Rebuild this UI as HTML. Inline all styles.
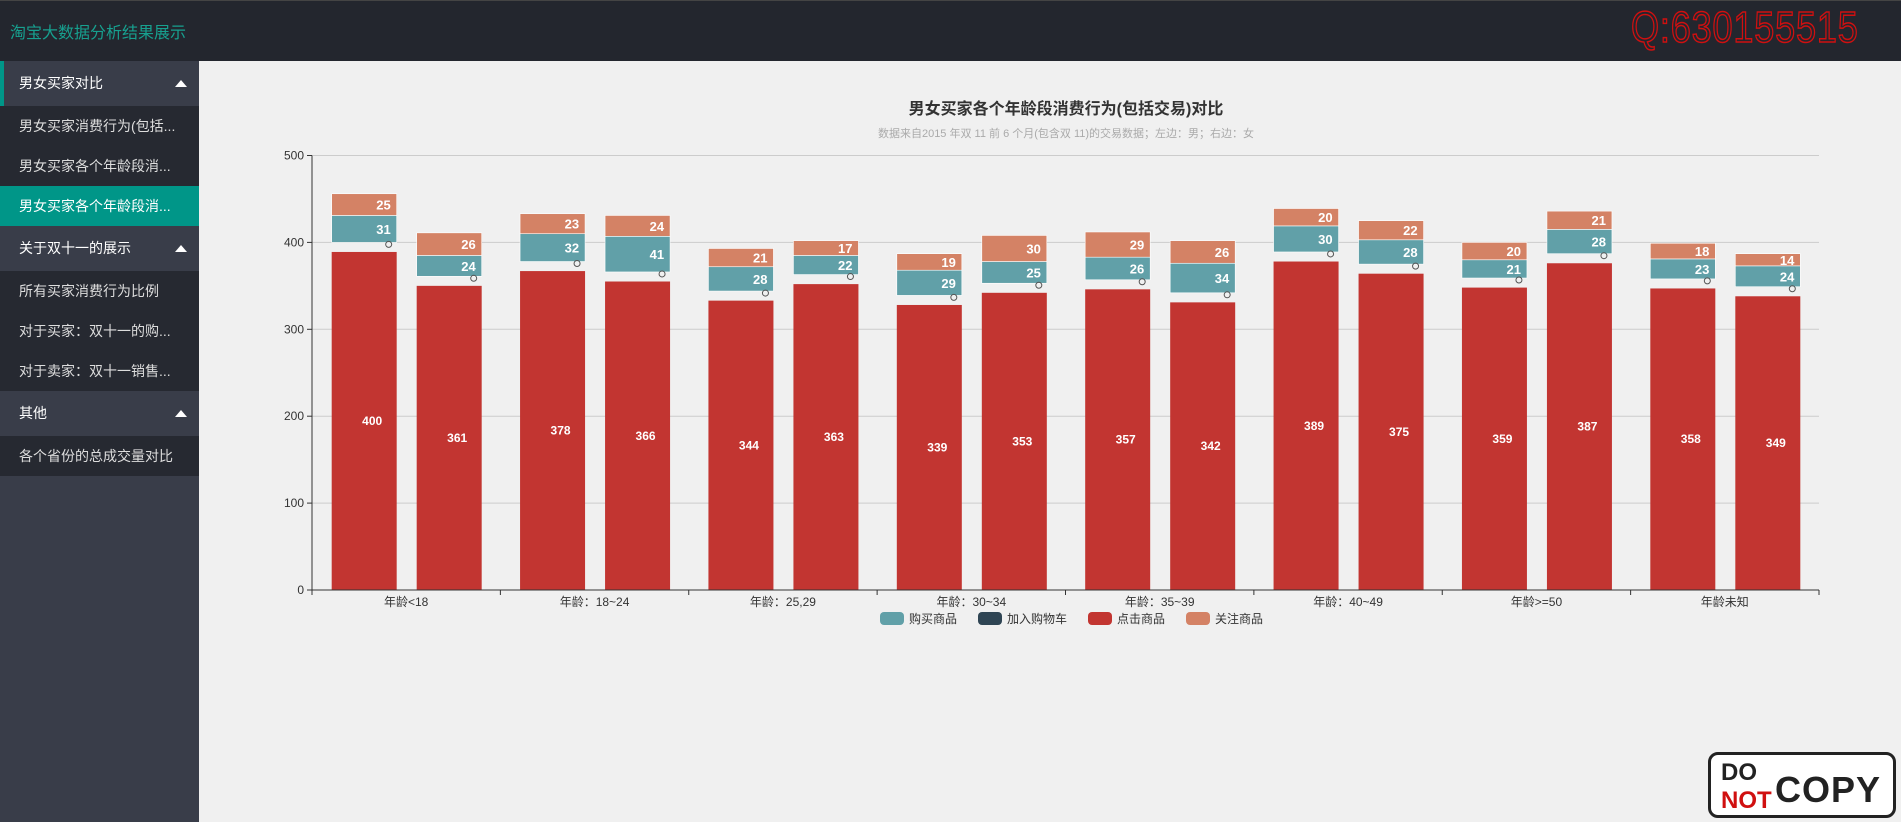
<!DOCTYPE html>
<html><head><meta charset="utf-8">
<style>
*{margin:0;padding:0;box-sizing:border-box}
body{width:1901px;height:822px;overflow:hidden;background:#f0f0f0;font-family:"Liberation Sans","Noto Sans CJK SC",sans-serif;position:relative}
#header{position:absolute;left:0;top:0;width:1901px;height:61px;background:#23262e;border-top:1px solid #444}
#brand{position:absolute;left:10px;top:18px;color:#17a08f;font-size:16px}
#qq{position:absolute;right:42px;top:2px;font-size:44px;color:transparent;-webkit-text-stroke:1.5px #d01010;font-family:"Liberation Sans",sans-serif;letter-spacing:1px;transform:scaleX(0.82);transform-origin:right top}
#side{position:absolute;left:0;top:61px;width:199px;height:761px;background:#393d49}
.grp{height:45px;line-height:45px;color:#fff;font-size:14px;padding-left:19px;background:#393d49;position:relative}
.grp .tri{position:absolute;right:12px;top:19px;width:0;height:0;border-left:6px solid transparent;border-right:6px solid transparent;border-bottom:7px solid #fff}
.sub{height:40px;line-height:40px;color:#ddd;font-size:14px;padding-left:19px;background:#262931;white-space:nowrap;overflow:hidden}
.sub.on{background:#009688;color:#fff}
#logo{position:absolute;left:1708px;top:752px;width:188px;height:66px;border:3px solid #222;border-radius:10px;background:#fff;font-weight:bold;color:#222}
</style></head><body>
<div id="header">
<div id="brand">淘宝大数据分析结果展示</div>
<div id="qq">Q:630155515</div>
</div>
<div id="side">
<div class="grp" style="border-left:4px solid #009688;padding-left:15px">男女买家对比<span class="tri"></span></div>
<div class="sub">男女买家消费行为(包括...</div>
<div class="sub">男女买家各个年龄段消...</div>
<div class="sub on">男女买家各个年龄段消...</div>
<div class="grp">关于双十一的展示<span class="tri"></span></div>
<div class="sub">所有买家消费行为比例</div>
<div class="sub">对于买家：双十一的购...</div>
<div class="sub">对于卖家：双十一销售...</div>
<div class="grp">其他<span class="tri"></span></div>
<div class="sub">各个省份的总成交量对比</div>
</div>
<svg id="chart" width="1901" height="822" style="position:absolute;left:0;top:0"></svg>
<div id="logo">
<div style="position:absolute;left:10px;top:4px;font-size:24px">DO</div>
<div style="position:absolute;left:10px;top:32px;font-size:24px;color:#d01010">NOT</div>
<div style="position:absolute;left:64px;top:14px;font-size:36px;letter-spacing:1px">COPY</div>
</div>
<script>
const categories=["年龄<18","年龄：18~24","年龄：25,29","年龄：30~34","年龄：35~39","年龄：40~49","年龄>=50","年龄未知"];
const clickVals=[400,361,378,366,344,363,339,353,357,342,389,375,359,387,358,349];
const cartVals=[0,0,0,0,0,0,0,0,0,0,0,0,0,0,0,0];
const buyVals=[31,24,32,41,28,22,29,25,26,34,30,28,21,28,23,24];
const followVals=[25,26,23,24,21,17,19,30,29,26,20,22,20,21,18,14];
const yTicks=[0,100,200,300,400,500];
const legendNames=["购买商品","加入购物车","点击商品","关注商品"];
const legendColors=["#61a0a8","#2f4554","#c23531","#d48265"];

const svg=document.getElementById('chart');
const NS='http://www.w3.org/2000/svg';
const X0=312,X1=1819,Y0=590,YTOP=155.5,YMAX=500;
const y=v=>Y0-(v/YMAX)*(Y0-YTOP);
const band=(X1-X0)/categories.length;
const barX=i=>X0+band*(Math.floor(i/2)+0.5)+(i%2?43:-42)-32.5;
const BW=65;
function el(t,a,txt){const e=document.createElementNS(NS,t);for(const k in a)e.setAttribute(k,a[k]);if(txt!=null)e.textContent=txt;svg.appendChild(e);return e;}

let e;
e=el('text',{x:1066,y:114,'text-anchor':'middle','font-size':16,'font-weight':'bold',fill:'#333'},'男女买家各个年龄段消费行为(包括交易)对比');


e=el('text',{x:1066,y:137,'text-anchor':'middle','font-size':11,fill:'#aaa'},'数据来自2015 年双 11 前 6 个月(包含双 11)的交易数据；左边：男；右边：女');



yTicks.forEach(t=>{
  if(t>0){e=el('line',{x1:X0,x2:X1,y1:y(t),y2:y(t),stroke:'#ccc','stroke-width':1});
  
  }
  el('line',{x1:X0-5,x2:X0,y1:y(t),y2:y(t),stroke:'#333'});
  e=el('text',{x:X0-8,y:y(t)+4,'text-anchor':'end','font-size':12,fill:'#333'},t);
  
  
});
e=el('line',{x1:X0,x2:X0,y1:YTOP,y2:Y0,stroke:'#333'});



clickVals.forEach((v,i)=>{
  const x=barX(i);
  const rt=y(v-11);
  e=el('rect',{x:x,y:rt,width:BW,height:Y0-rt,fill:legendColors[2]});
  
  
  e=el('text',{x:x+BW/2+8,y:(Y0+rt)/2+4,'text-anchor':'middle','font-size':12,'font-weight':'bold',fill:'#fff'},v);
  
  
  const b0=v+cartVals[i],b1=b0+buyVals[i],f1=b1+followVals[i];
  e=el('rect',{x:x,y:y(b1),width:BW,height:y(b0)-y(b1),fill:legendColors[0],stroke:'#fff','stroke-width':0.6});
  
  
  e=el('text',{x:x+BW-6,y:(y(b0)+y(b1))/2+5,'text-anchor':'end','font-size':13,'font-weight':'bold',fill:'#fff'},buyVals[i]);
  
  
  e=el('rect',{x:x,y:y(f1),width:BW,height:y(b1)-y(f1),fill:legendColors[3],stroke:'#fff','stroke-width':0.6});
  
  
  e=el('text',{x:x+BW-6,y:(y(b1)+y(f1))/2+5,'text-anchor':'end','font-size':13,'font-weight':'bold',fill:'#fff'},followVals[i]);
  
  
  e=el('circle',{cx:x+BW-8,cy:y(b0)+2,r:3,fill:'none',stroke:'#555','stroke-width':1});
  
  
});

e=el('line',{x1:X0,x2:X1,y1:Y0,y2:Y0,stroke:'#333'});


for(let k=0;k<=categories.length;k++){el('line',{x1:X0+band*k,x2:X0+band*k,y1:Y0,y2:Y0+5,stroke:'#333'});}
categories.forEach((c,k)=>{
  e=el('text',{x:X0+band*(k+.5),y:606,'text-anchor':'middle','font-size':12,fill:'#333'},c);
  
  
});

const lw=[24+6+58,24+6+70,24+6+58,24+6+58];
let lx=880;
legendNames.forEach((n,k)=>{
  e=el('rect',{x:lx,y:612,width:24,height:13,rx:4,fill:legendColors[k]});
  
  
  e=el('text',{x:lx+29,y:623,'font-size':12,fill:'#333'},n);
  
  
  lx+=lw[k]+10;
});
</script>
</body></html>
